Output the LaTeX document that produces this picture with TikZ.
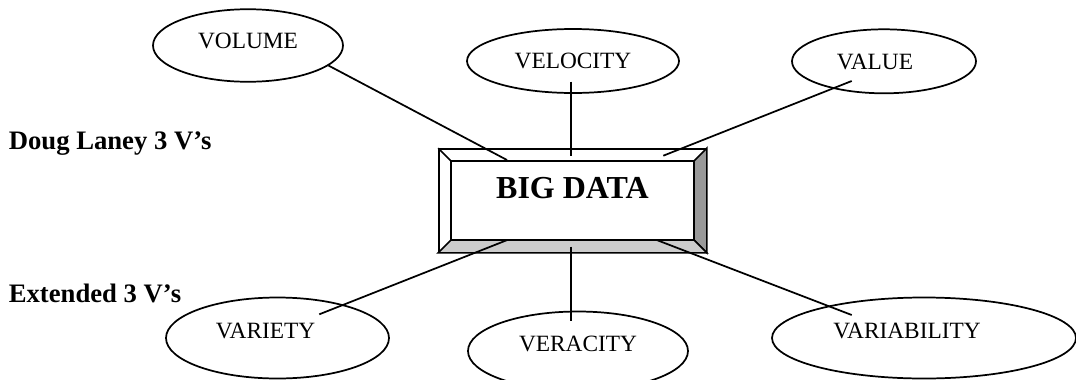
\documentclass[tikz,border=0pt]{standalone}
\usepackage{fontspec}
\setmainfont{Liberation Serif}
\usetikzlibrary{shapes.geometric,calc}

\definecolor{bevelDark}{gray}{0.6}
\definecolor{bevelLight}{gray}{0.8}

\begin{document}
\begin{tikzpicture}[
    x=0.75pt, y=-0.75pt,
    line width=1.3pt,
    vee/.style={
        draw,
        ellipse,
        inner sep=0pt,
        text height=11.6pt,
        text depth=0pt,
        font=\fontsize{17.5}{20}\selectfont
    },
    lowvee/.style={
        vee,
        text depth=10.5pt
    },
    bigbox/.style={
        draw,
        fill=white,
        minimum width=200.25pt,
        minimum height=77.25pt,
        text height=16.2pt,
        text depth=18.8pt,
        font=\fontsize{24}{28}\bfseries\selectfont
    },
    heading/.style={
        anchor=base west,
        inner sep=0pt,
        font=\fontsize{20}{24}\bfseries\selectfont
    },
    link/.style={-}
]

\useasboundingbox (0,0) rectangle (1076,379);
\clip (0,0) rectangle (1076,379);

% the six V's
\node[vee, minimum width=142.5pt, minimum height=54.4pt, text depth=7pt] (volume) at (248,45.5) {VOLUME};
\node[vee, minimum width=159pt, minimum height=48pt] (velocity) at (573,61) {VELOCITY};
\node[vee, minimum width=138pt, minimum height=48pt] (value) at (884,61.3) {VALUE\hspace*{13.5pt}};
\node[lowvee, minimum width=167.25pt, minimum height=60.75pt] (variety) at (277.5,338) {VARIETY\hspace*{18pt}};
\node[lowvee, minimum width=165pt, minimum height=59.25pt] (veracity) at (578,351) {VERACITY};
\node[lowvee, minimum width=228pt, minimum height=60.75pt] (variability) at (924,338) {VARIABILITY\hspace*{25.5pt}};

\node[heading] (laney) at (8,149) {Doug Laney 3 V’s};
\node[heading] (extended) at (8,302) {Extended 3 V’s};

% bevelled box
\node[bigbox] (bigdata) at (572.5,200.5) {BIG DATA};
\coordinate (innw) at ($(bigdata.north west)+(9.75pt,-9.75pt)$);
\coordinate (inne) at ($(bigdata.north east)+(-9.75pt,-9.75pt)$);
\coordinate (insw) at ($(bigdata.south west)+(9.75pt,9.75pt)$);
\coordinate (inse) at ($(bigdata.south east)+(-9.75pt,9.75pt)$);
\filldraw[fill=bevelDark] (bigdata.north east) -- (bigdata.south east) -- (inse) -- (inne) -- cycle;
\filldraw[fill=bevelLight] (bigdata.south west) -- (bigdata.south east) -- (inse) -- (insw) -- cycle;
\draw (innw) rectangle (inse);
\draw (bigdata.north west) -- (innw);

% line ends
\coordinate (volbox) at (507,160);
\coordinate (veltop) at (571,81.7);
\coordinate (velbox) at (571,156);
\coordinate (valtop) at (851.7,81);
\coordinate (valbox) at (663.3,155.7);
\coordinate (varbox) at (507.3,240);
\coordinate (varend) at (319.3,314.3);
\coordinate (verbox) at (571,246.7);
\coordinate (verend) at (571,320.7);
\coordinate (vbibox) at (656.7,240);
\coordinate (vbiend) at (851.7,315);

\draw[link] (volume.-14) -- (volbox);
\draw[link] (veltop) -- (velbox);
\draw[link] (valtop) -- (valbox);
\draw[link] (varbox) -- (varend);
\draw[link] (verbox) -- (verend);
\draw[link] (vbibox) -- (vbiend);

\end{tikzpicture}
\end{document}
